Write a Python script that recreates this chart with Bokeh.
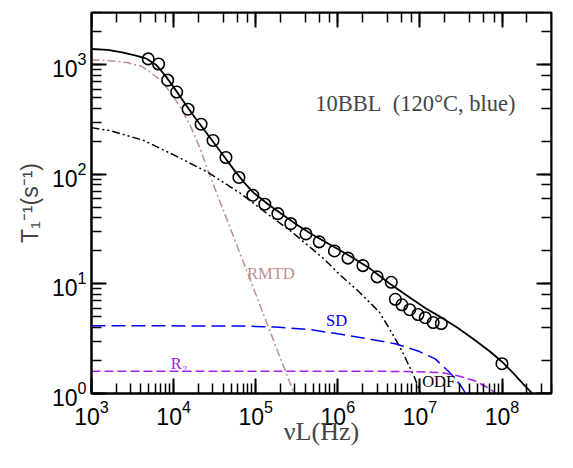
from bokeh.plotting import figure
from bokeh.models import Range1d, LogAxis, LogTicker, Label, CustomJSTickFormatter
from bokeh.embed import file_html
from bokeh.resources import INLINE

# ---- measured relaxation rates (circles) ----
freq_data = [4.91e3, 6.56e3, 8.47e3, 1.09e4, 1.50e4, 2.16e4, 3.02e4, 4.34e4, 6.24e4, 9.2e4,
             1.29e5, 1.86e5, 2.67e5, 4.09e5, 5.94e5, 9.09e5, 1.33e6, 2.02e6, 3.01e6, 4.47e6,
             5.02e6, 6.03e6, 7.50e6, 9.47e6, 1.16e7, 1.45e7, 1.82e7, 9.97e7]
rate_data = [1132, 1016, 724, 564, 393, 287, 204, 142.5, 93.7, 64.5,
             53.4, 43.8, 35.5, 28.6, 24.2, 20.0, 17.2, 14.7, 11.6, 10.35,
             7.24, 6.45, 5.82, 5.26, 4.92, 4.44, 4.35, 1.87]

# ---- total fit (solid) ----
fit_x = [1e3, 1577, 2371, 3573, 4690, 6166, 8091, 1.062e4, 1.394e4, 1.825e4, 2.40e4, 3.155e4,
         4.14e4, 5.44e4, 7.14e4, 9.4e4, 1.413e5, 2.13e5, 3.2e5, 4.82e5, 8.31e5, 1.433e6,
         2.47e6, 4.26e6, 7.36e6, 1.17e7, 1.81e7, 2.87e7, 4.56e7, 7.06e7, 1.005e8, 1.36e8,
         1.78e8, 2.34e8]
fit_y = [1393, 1365, 1297, 1208, 1137, 996, 780, 587, 437, 329, 250, 190,
         144.5, 109.9, 85.1, 68.1, 53.4, 42.7, 34.5, 28.4, 22.5, 17.8,
         13.8, 10.1, 7.6, 6.0, 4.95, 3.98, 3.11, 2.43, 1.94, 1.54,
         1.24, 1.0]

# ---- RMTD contribution (brown dash-dot) ----
rmtd_x = [1e3, 1577, 2716, 4090, 5370, 7054, 9270, 1.216e4, 1.60e4, 2.10e4, 2.61e4, 3.43e4,
          5.02e4, 7.15e4, 9.4e4, 1.233e5, 1.757e5, 2.31e5, 2.93e5]
rmtd_y = [1109, 1096, 1047, 966, 838, 719, 552, 407, 277, 173, 108.7, 64.1,
          30.8, 15.45, 9.11, 5.37, 2.69, 1.585, 1.0]

# ---- ODF contribution (black dash-dot-dot) ----
odf_x = [1e3, 1710, 4320, 1.062e4, 2.61e4, 6.59e4, 1.493e5, 2.79e5, 6.87e5, 1.091e6,
         1.734e6, 2.47e6, 3.24e6, 4.62e6, 6.07e6, 7.35e6, 8.43e6, 1.02e7]
odf_y = [267, 250, 204, 147.4, 104.4, 66.7, 41.8, 29.6, 16.75, 11.86,
         8.74, 6.71, 5.48, 3.50, 2.43, 1.79, 1.46, 1.0]

# ---- SD contribution (blue dashed) ----
sd_x = [1e3, 1.83e4, 7.14e4, 1.757e5, 4.44e5, 1.09e6, 2.68e6, 5.15e6, 9.66e6, 1.535e7,
        2.37e7, 3.12e7, 3.6e7]
sd_y = [4.15, 4.14, 4.12, 4.04, 3.84, 3.47, 3.10, 2.83, 2.43, 2.07, 1.52, 1.19, 1.0]

# ---- R2 contribution (purple dashed) ----
r2_x = [1e3, 1.88e6, 7.35e6, 1.81e7, 2.87e7, 4.56e7, 6.5e7, 8.53e7]
r2_y = [1.596, 1.60, 1.585, 1.554, 1.453, 1.313, 1.146, 1.0]

BROWN = "#bc8f8f"
BLUE = "#0000ff"
PURPLE = "#a020f0"
X_MIN, X_MAX = 1e3, 4e8
Y_MIN, Y_MAX = 1, 3000

p = figure(width=557, height=452, x_axis_type="log", y_axis_type="log",
           x_range=Range1d(X_MIN, X_MAX), y_range=Range1d(Y_MIN, Y_MAX),
           output_backend="svg", toolbar_location=None,
           min_border_left=91, min_border_right=6, min_border_top=12, min_border_bottom=59)
p.outline_line_color = "black"
p.outline_line_width = 2
p.xgrid.grid_line_color = None
p.ygrid.grid_line_color = None
p.background_fill_color = "white"
p.border_fill_color = "white"


def style(ax):
    ax.axis_line_width = 2
    ax.axis_line_color = "black"
    ax.major_tick_in = 15
    ax.major_tick_out = 0
    ax.minor_tick_in = 10
    ax.minor_tick_out = 0
    ax.major_tick_line_width = 2
    ax.minor_tick_line_width = 1.5
    ax.major_tick_line_color = "black"
    ax.minor_tick_line_color = "black"
    ax.major_label_text_font = "Liberation Sans"
    ax.major_label_text_font_size = "23px"
    ax.major_label_text_color = "black"


for ax in p.xaxis + p.yaxis:
    style(ax)
p.xaxis.major_label_standoff = 6
p.yaxis.major_label_standoff = 5

p.yaxis.axis_label = "T₁⁻¹(s⁻¹)"
p.yaxis.axis_label_text_font = "Liberation Sans"
p.yaxis.axis_label_text_font_size = "23px"
p.yaxis.axis_label_text_font_style = "normal"
p.yaxis.axis_label_standoff = 6

p.xaxis.axis_label = "νL(Hz)"
p.xaxis.axis_label_text_font = "Liberation Serif"
p.xaxis.axis_label_text_font_size = "26px"
p.xaxis.axis_label_text_font_style = "normal"
p.xaxis.axis_label_standoff = -11

# mirrored tick marks on top and right (drawn on the frame edges)
for loc, fixed in (("above", Y_MAX), ("right", X_MAX)):
    ax = LogAxis(ticker=LogTicker(), formatter=CustomJSTickFormatter(code="return ''"),
                 fixed_location=fixed)
    style(ax)
    ax.major_label_text_font_size = "0px"
    ax.major_label_standoff = 0
    p.add_layout(ax, loc)

p.line(rmtd_x, rmtd_y, line_color=BROWN, line_width=1.5, line_dash="8 3 2 3")
p.line(odf_x, odf_y, line_color="black", line_width=1.5, line_dash="8 3 2 3 2 3")
p.line(sd_x, sd_y, line_color=BLUE, line_width=1.5, line_dash="14 6")
p.line(r2_x, r2_y, line_color=PURPLE, line_width=1.5, line_dash="9 4")
p.line(fit_x, fit_y, line_color="black", line_width=1.8)
p.scatter(freq_data, rate_data, marker="circle", size=11.5, fill_color=None,
          line_color="black", line_width=1.6)

serif = "Liberation Serif"
p.add_layout(Label(x=5.3e5, y=444, text="10BBL\u00a0\u00a0(120°C, blue)", text_font=serif,
                   text_font_size="22.5px", text_baseline="middle", text_align="left"))
p.add_layout(Label(x=1.53e5, y=12.4, text="RMTD", text_font=serif, text_font_size="16.5px",
                   text_color=BROWN, text_baseline="middle", text_align="center"))
p.add_layout(Label(x=9.66e5, y=4.59, text="SD", text_font=serif, text_font_size="16.5px",
                   text_color=BLUE, text_baseline="middle", text_align="center"))
p.add_layout(Label(x=1.165e4, y=1.877, text="R₂", text_font=serif, text_font_size="16.5px",
                   text_color=PURPLE, text_baseline="middle", text_align="center"))
p.add_layout(Label(x=1.064e7, y=1.276, text="ODF", text_font=serif, text_font_size="16.5px",
                   text_color="black", text_baseline="middle", text_align="left"))

open("out.html", "w").write(file_html(p, INLINE))
